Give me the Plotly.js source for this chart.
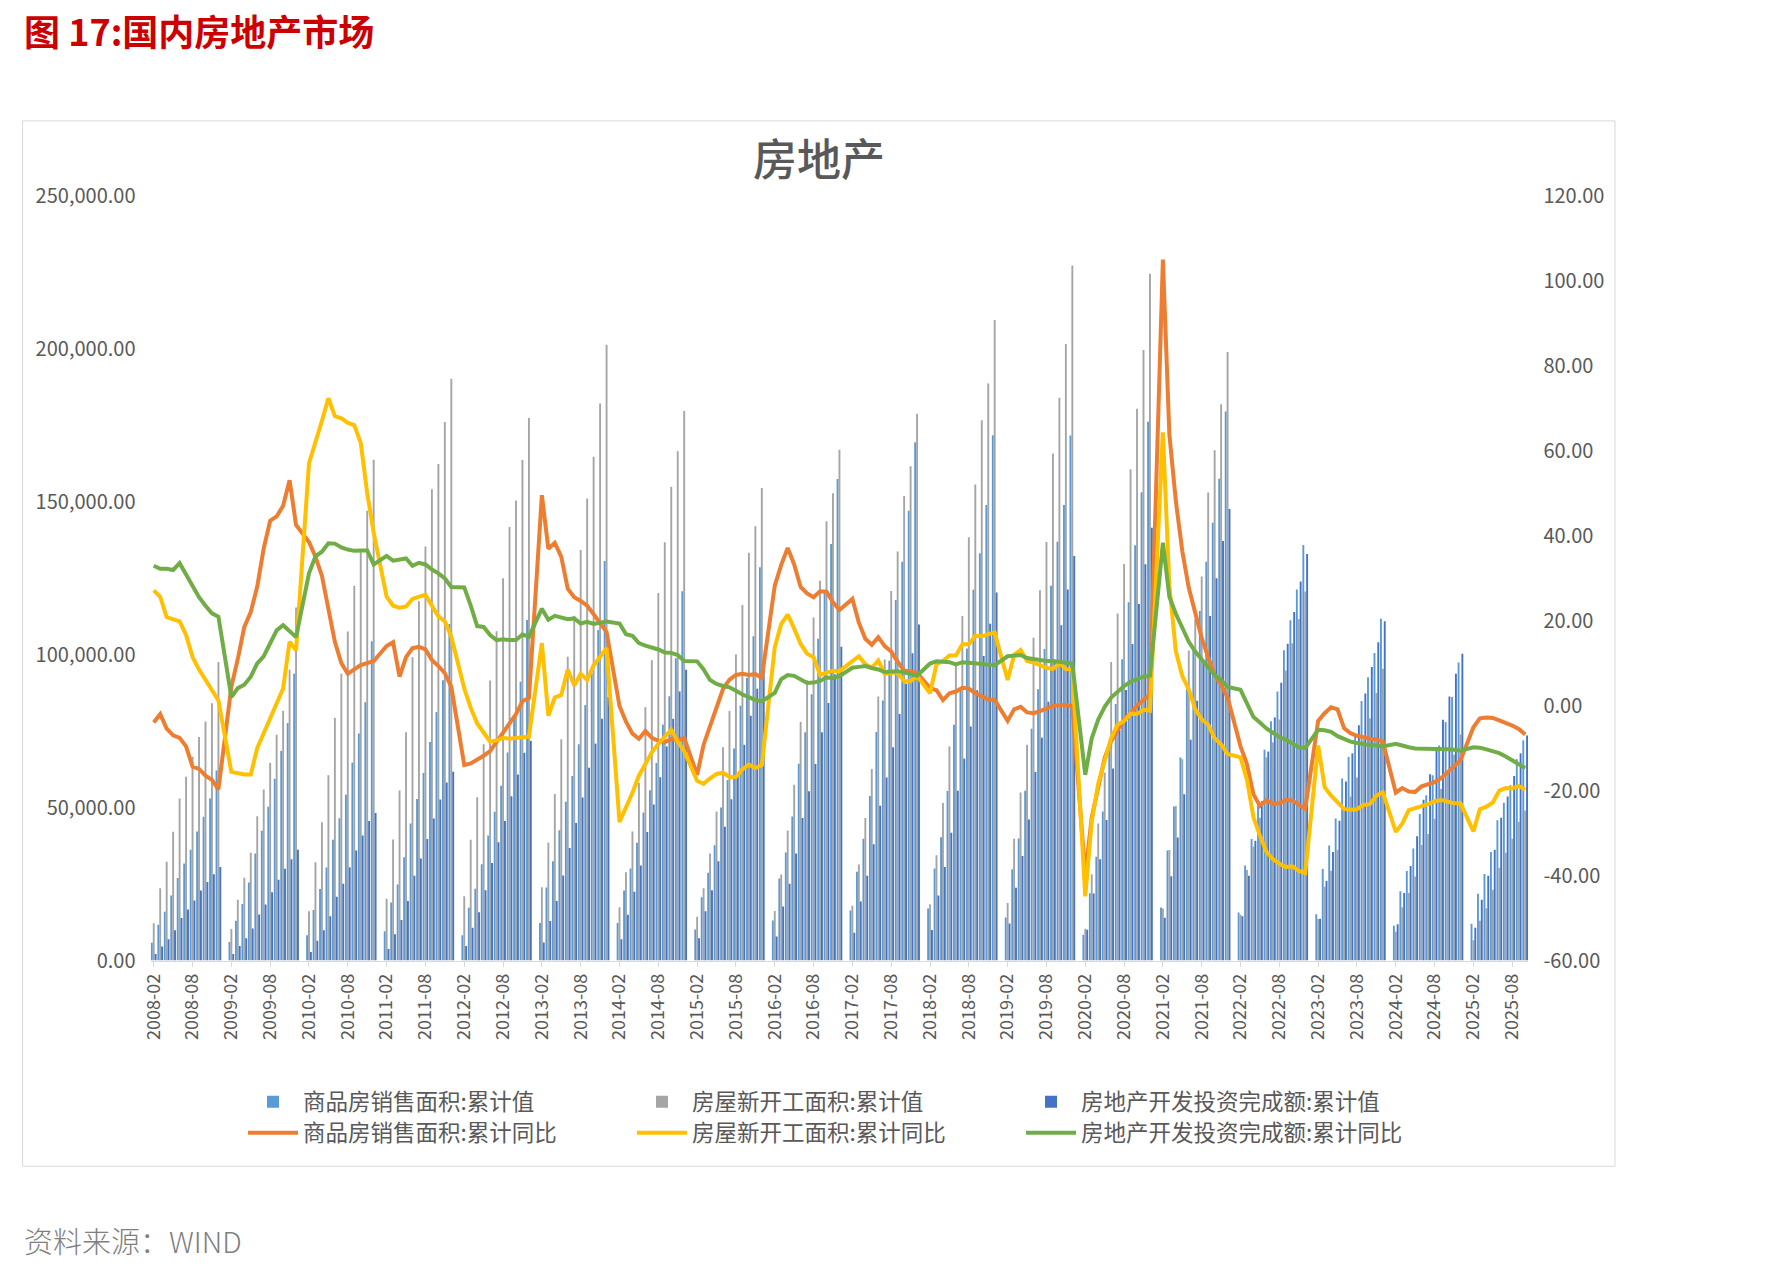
<!DOCTYPE html>
<html>
<head>
<meta charset="utf-8">
<script src="https://cdn.plot.ly/plotly-3.0.1.min.js"></script>
<style>
  html, body { margin: 0; padding: 0; background: #ffffff; }
  #chart { width: 1772px; height: 1269px; }
</style>
</head>
<body>
<div id="chart"></div>
<script>
// Monthly categories 2008-02 … 2025-10 (January has no release, so it stays empty)
const categories = [];
for (let y = 2008; y <= 2025; y++) {
  for (let m = 1; m <= 12; m++) {
    if (y === 2008 && m === 1) continue;
    if (y === 2025 && m > 10) break;
    categories.push(y + '-' + String(m).padStart(2, '0'));
  }
}

// 商品房销售面积:累计值 (万平方米)
const salesArea = [
  5800, 11700, 16000, 21300, 27000, 31700, 36200, 42200, 47000, 53000, 62089,
  null, 6100, 13000, 18500, 25500, 35000, 42400, 50300, 59400, 68500, 77600, 93713,
  null, 8300, 16500, 23400, 30400, 39500, 46500, 54200, 64700, 74200, 84400, 104349,
  null, 9600, 19000, 24900, 33800, 44800, 52800, 61300, 71400, 81200, 91600, 109946,
  null, 8300, 17300, 23500, 31500, 40900, 48600, 57100, 68000, 79000, 91100, 111304,
  null, 12300, 23900, 32500, 42600, 51900, 60300, 70700, 83500, 93800, 108000, 130551,
  null, 12300, 22900, 30100, 38500, 48400, 55700, 64600, 77100, 86400, 98800, 120649,
  null, 10200, 20700, 28700, 37700, 50000, 59000, 69300, 83300, 92400, 106000, 128495,
  null, 13100, 26800, 35300, 47100, 64300, 74600, 87000, 105200, 120500, 136100, 157349,
  null, 16400, 29000, 39800, 53800, 74700, 85000, 98000, 117800, 130300, 147000, 169408,
  null, 17000, 30100, 40300, 55400, 77100, 88500, 102000, 121200, 133100, 148900, 171654,
  null, 14102, 29829, 39885, 55518, 75786, 88680, 101849, 122514, 136843, 148905, 171558,
  null, 8475, 21978, 33973, 48703, 69404, 83815, 98486, 117073, 135682, 152995, 176086,
  null, 17363, 36007, 50359, 66383, 88635, 101915, 114193, 130332, 143041, 157431, 179433,
  null, 15703, 31046, 39768, 50738, 68923, 78178, 87890, 101422, 111179, 121250, 135837,
  null, 15133, 29946, 37636, 46440, 59515, 66563, 73949, 84806, 92579, 100509, 111735,
  null, 11369, 22668, 29252, 36642, 47916, 54013, 60533, 70284, 77930, 86118, 97385,
  null, 12004, 21869, 28262, 35515, 45851, 51560, 57304, 65835, 71982
];

// 房屋新开工面积:累计值 (万平方米)
const startsArea = [
  12200, 23600, 32300, 42100, 53000, 60100, 66600, 73100, 78100, 84100, 97574,
  null, 10300, 19850, 27100, 35200, 47200, 55900, 64600, 73800, 81600, 95000, 115385,
  null, 16100, 32100, 45200, 60600, 79300, 93700, 107500, 122500, 134000, 147000, 163647,
  null, 20200, 39600, 55600, 74600, 99100, 117400, 135300, 154000, 162300, 176000, 190083,
  null, 21000, 39500, 53400, 70700, 91500, 107600, 124900, 141700, 150300, 163600, 177334,
  null, 24000, 38600, 54400, 72300, 99300, 112700, 134200, 151000, 164600, 182000, 201208,
  null, 17400, 28900, 42200, 58000, 82800, 98100, 120100, 136700, 154800, 166400, 179592,
  null, 14300, 23600, 35000, 48700, 69700, 81600, 100000, 116200, 133300, 141900, 154454,
  null, 16200, 28100, 42500, 57500, 78000, 91600, 112100, 124100, 143600, 152700, 166928,
  null, 17900, 31400, 46600, 62600, 86300, 98400, 120800, 133700, 151800, 161500, 178654,
  null, 18400, 34400, 51500, 70000, 96500, 112600, 138300, 155600, 176600, 188600, 209342,
  null, 18814, 39803, 54916, 70490, 105509, 120999, 136749, 165707, 183894, 201514, 227154,
  null, 10370, 28203, 44812, 61484, 97536, 113443, 129572, 160538, 180338, 199508, 224433,
  null, 17002, 36163, 50532, 65792, 101288, 111634, 125542, 152944, 166736, 181818, 198895,
  null, 14949, 29638, 37252, 46668, 66423, 71315, 78772, 94767, 103722, 111632, 120587,
  null, 13568, 24121, 29355, 36245, 49880, 53607, 59803, 72123, 79177, 87456, 95376,
  null, 9429, 17402, 22119, 27447, 37747, 41397, 46361, 56051, 61227, 67297, 73893,
  null, 6638, 12996, 17136, 23184, 30364, 35206, 39801, 45399, 49061
];

// 房地产开发投资完成额:累计值 (亿元)
const investment = [
  2150, 4580, 6950, 9940, 13900, 16700, 19600, 22900, 25700, 28200, 30580,
  null, 2120, 4770, 7300, 10500, 15100, 18300, 22300, 26400, 30000, 33100, 36232,
  null, 2780, 6450, 9940, 14500, 20900, 25100, 30500, 36000, 40900, 45600, 48267,
  null, 3770, 8650, 13300, 19500, 27700, 33400, 39700, 46400, 52600, 58200, 61740,
  null, 4800, 10700, 15800, 23000, 31900, 38700, 45600, 53700, 60800, 67900, 71804,
  null, 5900, 12900, 19500, 27800, 36800, 45000, 53300, 63000, 70900, 79000, 86013,
  null, 7000, 15000, 22500, 31100, 42000, 51000, 59900, 70000, 79000, 87900, 95036,
  null, 7300, 16100, 23000, 32500, 43700, 52700, 61000, 70500, 80000, 88800, 95979,
  null, 7900, 17700, 25100, 35000, 46600, 55300, 64200, 74600, 84200, 93600, 102581,
  null, 9100, 19300, 27700, 38000, 50600, 59800, 69700, 80600, 90500, 100400, 109799,
  null, 10000, 21300, 30600, 41800, 55500, 66000, 76500, 88300, 99500, 110100, 120264,
  null, 12090, 23803, 34217, 46075, 61609, 72843, 84589, 98008, 109603, 121265, 132194,
  null, 10115, 21963, 33103, 45920, 62780, 75325, 88454, 103484, 116556, 129492, 141443,
  null, 13986, 27576, 40240, 54318, 72179, 84895, 98060, 112568, 124934, 137086, 147602,
  null, 14499, 27765, 39154, 52134, 68314, 79462, 90809, 103559, 113945, 123863, 132895,
  null, 13669, 25974, 35514, 45701, 58550, 67717, 76900, 87269, 95922, 104045, 110913,
  null, 11842, 22082, 30928, 40632, 52529, 60877, 69284, 78680, 86309, 93768, 100280,
  null, 10720, 19904, 27730, 36234, 46658, 53580, 60309, 67706, 73563
];

// 商品房销售面积:累计同比 (%)
const salesYoY = [
  -4.0, -2.0, -5.4, -7.0, -7.6, -9.6, -14.4, -14.9, -16.5, -17.5, -19.7,
  null, 4.4, 11.0, 18.5, 22.0, 28.0, 37.0, 43.5, 44.5, 47.0, 53.0, 42.5,
  null, 38.5, 35.0, 30.5, 23.0, 15.0, 10.0, 7.5, 8.5, 9.5, 10.0, 10.5,
  null, 14.0, 14.9, 6.8, 11.4, 13.5, 13.8, 13.2, 10.7, 9.3, 7.6, 4.4,
  null, -14.0, -13.6, -12.8, -11.8, -10.7, -8.5, -6.5, -4.4, -2.0, 1.0, 1.8,
  null, 49.5, 36.9, 38.3, 35.0, 27.5, 25.5, 24.6, 23.5, 21.5, 19.5, 17.3,
  null, -0.1, -3.8, -6.6, -7.8, -6.0, -7.6, -8.3, -8.6, -7.9, -8.2, -7.6,
  null, -16.3, -9.2, -4.8, -1.0, 3.9, 6.1, 7.2, 7.5, 7.2, 7.4, 6.5,
  null, 28.2, 33.1, 37.1, 33.2, 27.9, 26.4, 25.5, 26.9, 26.8, 24.3, 22.5,
  null, 25.1, 19.5, 15.7, 14.3, 16.1, 14.0, 12.7, 10.3, 8.2, 8.0, 7.7,
  null, 4.1, 3.6, 1.3, 2.9, 3.3, 4.2, 4.0, 2.9, 2.2, 1.4, 1.3,
  null, -3.6, -0.9, -0.3, -1.6, -1.8, -1.3, -0.6, -0.1, 0.1, 0.2, -0.1,
  null, -39.9, -26.3, -19.3, -12.3, -8.4, -5.8, -3.3, -1.8, 0.0, 1.3, 2.6,
  null, 104.9, 63.8, 48.1, 36.3, 27.7, 21.5, 15.9, 11.3, 7.3, 4.8, 1.9,
  null, -9.6, -13.8, -20.9, -23.6, -22.2, -23.1, -23.0, -22.2, -22.3, -23.3, -24.3,
  null, -3.6, -1.8, -0.4, -0.9, -5.3, -6.5, -7.1, -7.5, -7.8, -8.0, -8.5,
  null, -20.5, -19.4, -20.2, -20.3, -19.0, -18.6, -18.0, -17.1, -15.8, -14.3, -12.9,
  null, -5.1, -3.0, -2.8, -2.9, -3.5, -4.0, -4.7, -5.5, -6.8
];

// 房屋新开工面积:累计同比 (%)
const startsYoY = [
  27.1, 25.6, 20.8, 20.3, 19.8, 16.6, 11.4, 8.5, 6.1, 3.5, 1.2,
  null, -15.6, -15.9, -16.2, -16.2, -10.0, -6.5, -3.0, 0.9, 4.0, 15.0, 13.0,
  null, 57.0, 61.8, 67.0, 72.3, 68.1, 67.6, 66.5, 66.0, 61.8, 50.0, 40.7,
  null, 25.6, 23.5, 23.0, 23.3, 25.1, 25.6, 26.1, 23.5, 21.0, 19.8, 16.2,
  null, 4.0, -0.5, -4.2, -6.5, -8.5, -8.2, -7.6, -7.8, -7.6, -7.3, -7.3,
  null, 14.7, -2.4, 1.9, 2.5, 8.5, 4.7, 7.5, 6.0, 9.5, 11.5, 13.5,
  null, -27.4, -24.0, -20.5, -16.5, -13.5, -11.0, -9.0, -7.5, -5.7, -8.5, -10.7,
  null, -17.7, -18.4, -17.1, -16.1, -15.8, -16.8, -16.8, -15.0, -13.9, -14.7, -14.0,
  null, 13.7, 19.2, 21.4, 18.1, 14.5, 12.2, 11.4, 7.2, 7.7, 8.2, 8.1,
  null, 10.4, 11.6, 9.7, 8.9, 10.6, 7.4, 7.7, 7.7, 5.7, 5.7, 7.0,
  null, 2.9, 9.7, 10.5, 11.8, 11.8, 14.4, 14.4, 16.4, 16.3, 16.8, 17.2,
  null, 6.0, 11.9, 13.1, 10.5, 10.1, 9.5, 8.9, 8.6, 10.0, 8.6, 8.5,
  null, -44.9, -27.2, -18.4, -12.8, -7.6, -4.5, -3.6, -1.9, -2.0, -1.0, -1.2,
  null, 64.3, 28.2, 12.8, 6.9, 3.8, -0.9, -3.2, -4.5, -7.7, -9.1, -11.4,
  null, -12.2, -17.5, -26.3, -30.6, -34.4, -36.1, -37.2, -38.0, -37.8, -38.9, -39.4,
  null, -9.4, -19.2, -21.2, -22.6, -24.3, -24.5, -24.4, -23.4, -23.2, -21.2, -20.4,
  null, -29.7, -27.8, -24.6, -24.2, -23.7, -23.2, -22.5, -22.2, -22.6, -23.0, -23.0,
  null, -29.6, -24.4, -23.8, -22.8, -20.0, -19.4, -19.5, -18.9, -19.8
];

// 房地产开发投资完成额:累计同比 (%)
const investmentYoY = [
  32.9, 32.2, 32.2, 31.9, 33.5, 30.9, 28.5, 25.5, 23.5, 21.7, 20.9,
  null, 2.0, 4.1, 4.9, 6.8, 9.9, 11.6, 14.7, 17.7, 18.9, 17.5, 16.1,
  null, 31.1, 35.1, 36.2, 38.2, 38.1, 37.2, 36.7, 36.4, 36.5, 36.5, 33.2,
  null, 35.2, 34.1, 34.3, 34.6, 32.9, 33.6, 33.2, 32.0, 31.1, 29.9, 27.9,
  null, 27.8, 23.5, 18.7, 18.5, 16.6, 15.4, 15.6, 15.4, 15.4, 16.7, 16.2,
  null, 22.8, 20.2, 21.1, 20.6, 20.3, 20.5, 19.3, 19.7, 19.2, 19.5, 19.8,
  null, 19.3, 16.8, 16.4, 14.7, 14.1, 13.7, 13.2, 12.5, 12.4, 11.9, 10.5,
  null, 10.4, 8.5, 6.0, 5.1, 4.6, 4.3, 3.5, 2.6, 2.0, 1.3, 1.0,
  null, 3.0, 6.2, 7.2, 7.0, 6.1, 5.3, 5.4, 5.8, 6.6, 6.5, 6.9,
  null, 8.9, 9.1, 9.3, 8.8, 8.5, 7.9, 7.9, 8.1, 7.8, 7.5, 7.0,
  null, 9.9, 10.4, 10.3, 10.2, 9.7, 10.2, 10.1, 9.9, 9.7, 9.7, 9.5,
  null, 11.6, 11.8, 11.9, 11.2, 10.9, 10.6, 10.5, 10.5, 10.3, 10.2, 9.9,
  null, -16.3, -7.7, -3.3, -0.3, 1.9, 3.4, 4.6, 5.6, 6.3, 6.8, 7.0,
  null, 38.3, 25.6, 21.6, 18.3, 15.0, 12.7, 10.9, 8.8, 7.2, 6.0, 4.4,
  null, 3.7, 0.7, -2.7, -4.0, -5.4, -6.4, -7.4, -8.0, -8.8, -9.8, -10.0,
  null, -5.7, -5.8, -6.2, -7.2, -7.9, -8.5, -8.8, -9.1, -9.3, -9.4, -9.6,
  null, -9.0, -9.5, -9.8, -10.1, -10.1, -10.2, -10.2, -10.1, -10.3, -10.4, -10.6,
  null, -9.8, -9.9, -10.3, -10.7, -11.2, -12.0, -12.9, -13.9, -14.7
];

// Axis tick labels
const xTickLabels = categories.filter((c, i) => i % 6 === 0);
const leftTicks = [0, 50000, 100000, 150000, 200000, 250000];
const rightTicks = [-60, -40, -20, 0, 20, 40, 60, 80, 100, 120];
const rightTickText = ['-60.00', '-40.00', '-20.00', '0.00', '20.00', '40.00', '60.00', '80.00', '100.00', '120.00'];

const FONT = 'Noto Sans CJK SC, Noto Sans, sans-serif';
const TEXT = '#595959';
const W = 1772, H = 1269;
const px = v => v / W;
const py = v => (H - v) / H;

function barTrace(name, values, color) {
  return {
    type: 'bar', name: name, x: categories, y: values,
    marker: { color: color, line: { width: 0 } },
    legend: 'legend', yaxis: 'y'
  };
}
function lineTrace(name, values, color) {
  return {
    type: 'scatter', mode: 'lines', name: name, x: categories, y: values,
    connectgaps: true,
    line: { color: color, width: 4, shape: 'linear' },
    legend: 'legend2', yaxis: 'y2'
  };
}

const data = [
  barTrace('商品房销售面积:累计值', salesArea, '#5B9BD5'),
  barTrace('房屋新开工面积:累计值', startsArea, '#A5A5A5'),
  barTrace('房地产开发投资完成额:累计值', investment, '#4472C4'),
  lineTrace('商品房销售面积:累计同比', salesYoY, '#ED7D31'),
  lineTrace('房屋新开工面积:累计同比', startsYoY, '#FFC000'),
  lineTrace('房地产开发投资完成额:累计同比', investmentYoY, '#70AD47')
];

const legendCommon = {
  orientation: 'h', xanchor: 'left', yanchor: 'middle',
  x: px(243), bgcolor: 'rgba(0,0,0,0)', borderwidth: 0,
  itemwidth: 50, entrywidth: 324, entrywidthmode: 'pixels',
  traceorder: 'normal',
  font: { family: FONT, size: 22.5, color: TEXT }
};

const layout = {
  width: W, height: H,
  margin: { l: 0, r: 0, t: 0, b: 0, pad: 0 },
  paper_bgcolor: '#ffffff', plot_bgcolor: 'rgba(0,0,0,0)',
  font: { family: FONT, color: TEXT },
  barmode: 'group', bargap: 0.12, bargroupgap: 0,
  title: {
    text: '房地产', x: px(819), y: py(161), xanchor: 'center', yanchor: 'middle',
    font: { family: FONT, size: 44, color: TEXT, weight: 500 }
  },
  xaxis: {
    type: 'category', categoryorder: 'array', categoryarray: categories,
    domain: [px(150.5), px(1528.4)], range: [-0.5, categories.length - 0.5],
    tickmode: 'array', tickvals: xTickLabels, ticktext: xTickLabels,
    tickangle: -90, ticks: 'outside', ticklen: 5, tickcolor: '#D9D9D9',
    showline: true, linecolor: '#D9D9D9', linewidth: 1,
    showgrid: false, zeroline: false, automargin: false,
    tickfont: { family: FONT, size: 18, color: TEXT }
  },
  yaxis: {
    domain: [py(960.6), py(195.5)], range: [0, 250000],
    tickmode: 'array', tickvals: leftTicks, tickformat: ',.2f',
    showgrid: false, zeroline: false, showline: false, ticks: '',
    ticklabelstandoff: 14, automargin: false,
    tickfont: { family: FONT, size: 20, color: TEXT }
  },
  yaxis2: {
    overlaying: 'y', side: 'right', anchor: 'x', range: [-60, 120],
    tickmode: 'array', tickvals: rightTicks, ticktext: rightTickText,
    showgrid: false, zeroline: false, showline: false, ticks: '',
    ticklabelstandoff: 14, automargin: false,
    tickfont: { family: FONT, size: 20, color: TEXT }
  },
  legend: Object.assign({}, legendCommon, { y: py(1102) }),
  legend2: Object.assign({}, legendCommon, { y: py(1133) }),
  shapes: [
    {
      type: 'rect', xref: 'paper', yref: 'paper',
      x0: px(22.6), x1: px(1615), y0: py(1166.3), y1: py(120.9),
      line: { color: '#D9D9D9', width: 1 }, fillcolor: 'rgba(0,0,0,0)', layer: 'below'
    }
  ],
  annotations: [
    {
      xref: 'paper', yref: 'paper', x: px(22), y: py(30), xanchor: 'left', yanchor: 'middle',
      showarrow: false, text: '<b>图 17:国内房地产市场</b>',
      font: { family: FONT, size: 36, color: '#CC0000' }
    },
    {
      xref: 'paper', yref: 'paper', x: px(22), y: py(1240), xanchor: 'left', yanchor: 'middle',
      showarrow: false, text: '资料来源：WIND',
      font: { family: FONT, size: 29, color: '#7F7F7F', weight: 300 }
    }
  ],
  showlegend: true
};

Plotly.newPlot('chart', data, layout, { staticPlot: true, displayModeBar: false });
</script>
</body>
</html>
